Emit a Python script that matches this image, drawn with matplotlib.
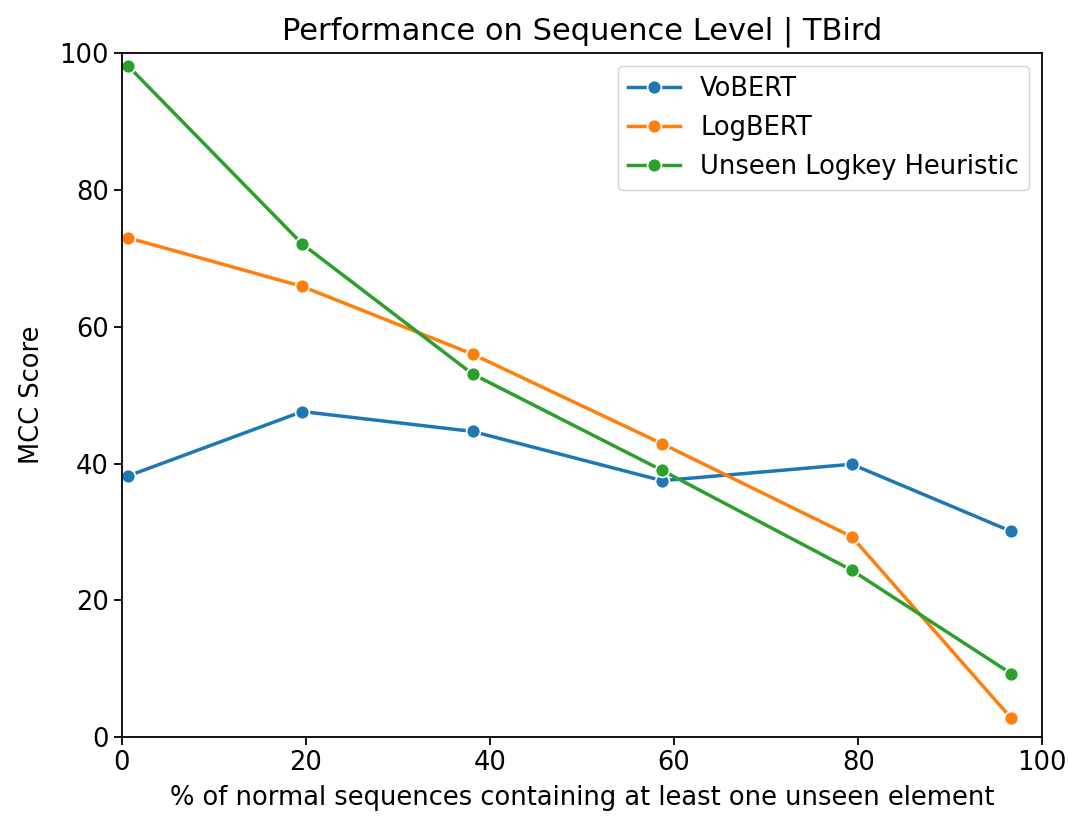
import numpy as np
import matplotlib.pyplot as plt

# data
x = [0.7, 19.6, 38.1, 58.7, 79.3, 96.6]
vobert = [38.2, 47.6, 44.7, 37.5, 39.9, 30.1]
logbert = [73.0, 65.9, 56.0, 42.9, 29.3, 2.8]
heuristic = [98.1, 72.1, 53.1, 39.0, 24.4, 9.3]
labels = ['VoBERT', 'LogBERT', 'Unseen Logkey Heuristic']
colors = ['#1f77b4', '#ff7f0e', '#2ca02c']

plt.rcParams['font.size'] = 18.5

fig = plt.figure(figsize=(10.69, 8.19), dpi=100)
ax = fig.add_axes([0.114, 0.100, 0.861, 0.835])

for ys, lab, c in zip([vobert, logbert, heuristic], labels, colors):
    ax.plot(x, ys, color=c, label=lab, marker='o', linewidth=2.5,
            markersize=10, markeredgecolor='white', markeredgewidth=1.2)

# axis limits
ax.set_xlim(0, 100)
ax.set_ylim(0, 100)
ax.set_xlabel('% of normal sequences containing at least one unseen element', labelpad=6)
ax.set_ylabel('MCC Score', labelpad=10)
ax.set_title('Performance on Sequence Level | TBird', fontsize=22, pad=10)

for s in ax.spines.values():
    s.set_linewidth(1.3)
ax.tick_params(width=1.3, length=6)

ax.legend(loc='upper right', borderaxespad=0.5, handlelength=2.0)

fig.savefig('out.png', dpi=100)
